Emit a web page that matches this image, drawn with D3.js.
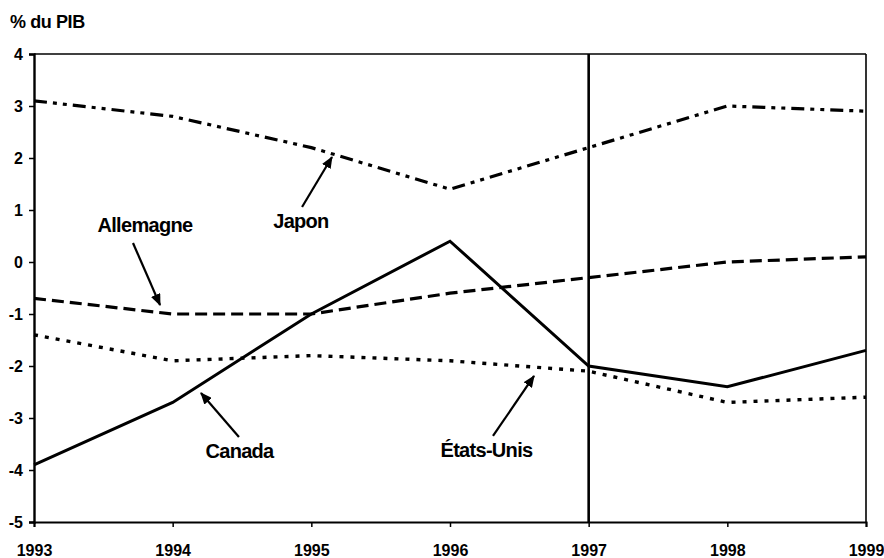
<!DOCTYPE html>
<html><head><meta charset="utf-8">
<script src="https://cdn.jsdelivr.net/npm/d3@7"></script>
<style>
html,body{margin:0;padding:0;background:#fff;overflow:hidden;}
text{font-family:"Liberation Sans",Arial,sans-serif;font-weight:bold;fill:#000;}
</style></head>
<body>
<script>
const years = [1993, 1994, 1995, 1996, 1997, 1998, 1999];
const japon = [3.1, 2.8, 2.2, 1.4, 2.2, 3.0, 2.9];
const allemagne = [-0.7, -1.0, -1.0, -0.6, -0.3, 0.0, 0.1];
const canada = [-3.9, -2.7, -1.0, 0.4, -2.0, -2.4, -1.7];
const etatsUnis = [-1.4, -1.9, -1.8, -1.9, -2.1, -2.7, -2.6];
const yTicks = [-5, -4, -3, -2, -1, 0, 1, 2, 3, 4];
const yLabel = "% du PIB";
const markerYear = 1997;

const W = 884, H = 558;
const mLeft = 34, mRight = 866, mTop = 54, mBottom = 522;

const x = d3.scaleLinear().domain([1993, 1999]).range([mLeft, mRight]);
const y = d3.scaleLinear().domain([-5, 4]).range([mBottom, mTop]);

const svg = d3.select("body").append("svg").attr("width", W).attr("height", H);

svg.append("defs").append("marker")
  .attr("id", "arrow").attr("viewBox", "0 0 12 10")
  .attr("refX", 11).attr("refY", 5)
  .attr("markerWidth", 12).attr("markerHeight", 10)
  .attr("markerUnits", "userSpaceOnUse")
  .attr("orient", "auto")
  .append("path").attr("d", "M0,0 L12,5 L0,10 Z").attr("fill", "#000");

// frame
svg.append("line").attr("x1", mLeft).attr("x2", mRight).attr("y1", mTop).attr("y2", mTop)
  .attr("stroke", "#000").attr("stroke-width", 1.6);
svg.append("line").attr("x1", mRight).attr("x2", mRight).attr("y1", mTop).attr("y2", mBottom)
  .attr("stroke", "#000").attr("stroke-width", 1.6);

// axes
const fmt = d => String(d);
const yAxis = d3.axisLeft(y).tickValues(yTicks).tickSize(5).tickPadding(6).tickFormat(fmt);
const gy = svg.append("g").attr("transform", `translate(${mLeft},0)`).call(yAxis);
gy.select(".domain").attr("stroke-width", 2.4);
gy.selectAll(".tick line").attr("stroke-width", 1.5);
gy.selectAll("text").style("font-size", "16px");

const xAxis = d3.axisBottom(x).tickValues(years).tickSize(5).tickPadding(18).tickFormat(fmt);
const gx = svg.append("g").attr("transform", `translate(0,${mBottom})`).call(xAxis);
gx.select(".domain").attr("stroke-width", 2);
gx.selectAll(".tick line").attr("stroke-width", 1.5);
gx.selectAll("text").style("font-size", "16px");
svg.selectAll(".tick text").attr("fill", "#000");

// vertical marker 1997
svg.append("line").attr("x1", x(markerYear)).attr("x2", x(markerYear))
  .attr("y1", mTop).attr("y2", mBottom).attr("stroke", "#000").attr("stroke-width", 2.6);

// y label
svg.append("text").attr("x", 10).attr("y", 28).style("font-size", "18px")
  .style("letter-spacing", "-0.4px").text(yLabel);

const line = d3.line().x((d, i) => x(years[i])).y(d => y(d));
const series = [
  {data: japon, dash: "13,6,4,6,4,6", w: 3.2},
  {data: allemagne, dash: "12,6", w: 3.2},
  {data: canada, dash: null, w: 3},
  {data: etatsUnis, dash: "4,7", w: 3.4}
];
series.forEach(s => {
  svg.append("path").attr("d", line(s.data)).attr("fill", "none")
    .attr("stroke", "#000").attr("stroke-width", s.w)
    .attr("stroke-dasharray", s.dash);
});

// annotations in data units
const annotations = [
  {label: "Allemagne", tx: 1993.80, ty: 0.577, ax1: 1993.714, ay1: 0.365, ax2: 1993.909, ay2: -0.827},
  {label: "Japon", tx: 1994.925, ty: 0.654, ax1: 1994.933, ay1: 1.058, ax2: 1995.149, ay2: 2.019},
  {label: "Canada", tx: 1994.482, ty: -3.769, ax1: 1994.478, ay1: -3.365, ax2: 1994.204, ay2: -2.519},
  {label: "États-Unis", tx: 1996.263, ty: -3.75, ax1: 1996.31, ay1: -3.346, ax2: 1996.606, ay2: -2.192}
];
annotations.forEach(a => {
  svg.append("text").attr("x", x(a.tx)).attr("y", y(a.ty))
    .attr("text-anchor", "middle").style("font-size", "20px")
    .style("letter-spacing", "-0.7px").text(a.label);
  svg.append("line").attr("x1", x(a.ax1)).attr("y1", y(a.ay1))
    .attr("x2", x(a.ax2)).attr("y2", y(a.ay2))
    .attr("stroke", "#000").attr("stroke-width", 2.2)
    .attr("marker-end", "url(#arrow)");
});
</script>
</body></html>
